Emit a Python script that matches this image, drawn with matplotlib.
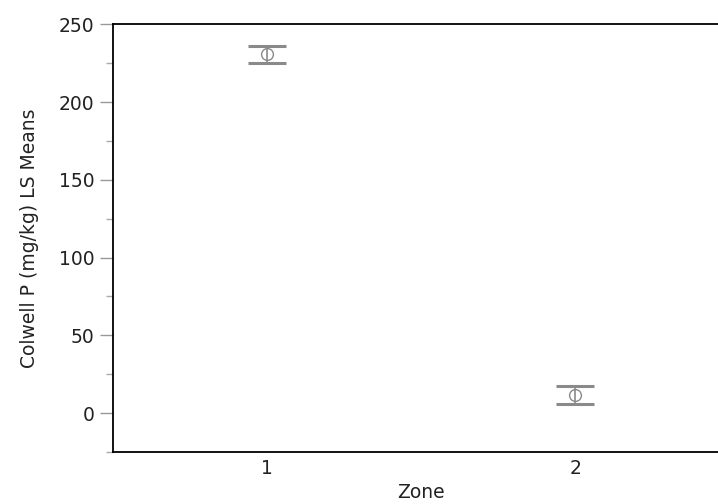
import numpy as np
import matplotlib.pyplot as plt
from matplotlib.ticker import MultipleLocator

# LS means for Colwell P by zone, with error bar limits
zones = [1, 2]
zone_labels = ['1', '2']
ls_means = [230.6, 11.4]
upper = [236.0, 17.2]
lower = [225.1, 5.6]

err = np.array([np.array(ls_means) - np.array(lower),
                np.array(upper) - np.array(ls_means)])

plt.rcParams['font.family'] = 'DejaVu Sans'
plt.rcParams['font.size'] = 13.5

fig = plt.figure(figsize=(7.18, 5.04), dpi=100)
ax = fig.add_axes([0.1578, 0.1032, 0.858, 0.8486])

grey = '#8a8a8a'
ax.errorbar(zones, ls_means, yerr=err, fmt='none', ecolor=grey,
            elinewidth=1.2, capsize=14, capthick=2.2)
ax.plot(zones, ls_means, 'o', markerfacecolor='none', markeredgecolor=grey,
        markersize=8.5, markeredgewidth=1.0)

ax.set_xlim(0.5, 2.5)
ax.set_ylim(-25, 250)
ax.set_xticks(zones)
ax.set_xticklabels(zone_labels)
ax.yaxis.set_major_locator(MultipleLocator(50))
ax.yaxis.set_minor_locator(MultipleLocator(25))

ax.tick_params(axis='x', length=0, pad=5, labelcolor='#222222')
ax.tick_params(axis='y', which='major', length=9.5, width=1, color='#999999',
               labelcolor='#222222', pad=4)
ax.tick_params(axis='y', which='minor', length=5, width=1, color='#aaaaaa')

for side in ['left', 'bottom', 'top']:
    ax.spines[side].set_color('black')
    ax.spines[side].set_linewidth(1.3)
ax.spines['right'].set_visible(False)

ax.set_xlabel('Zone', color='#222222', labelpad=4)
ax.set_ylabel('Colwell P (mg/kg) LS Means', color='#222222', labelpad=14)

fig.savefig('out.png', dpi=100)
